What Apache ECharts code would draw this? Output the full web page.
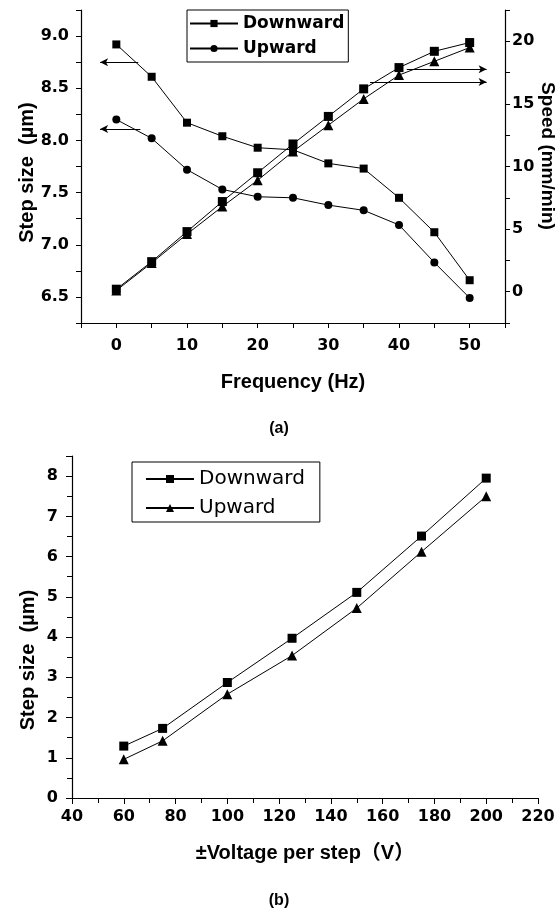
<!DOCTYPE html>
<html>
<head>
<meta charset="utf-8">
<script src="https://cdn.jsdelivr.net/npm/echarts@6/dist/echarts.min.js"></script>
<style>
html, body { margin: 0; padding: 0; background: #fff; }
#chart { width: 558px; height: 917px; }
</style>
</head>
<body>
<div id="chart"></div>
<script>
// (a) frequency sweep
const freq = [0, 5, 10, 15, 20, 25, 30, 35, 40, 45, 50]
const stepDown = [8.92, 8.61, 8.17, 8.04, 7.93, 7.91, 7.78, 7.73, 7.45, 7.12, 6.66]
const stepUp = [8.20, 8.02, 7.72, 7.53, 7.46, 7.45, 7.38, 7.33, 7.19, 6.83, 6.49]
const speedDown = [0.2, 2.4, 4.8, 7.2, 9.5, 11.8, 14.0, 16.2, 17.9, 19.2, 19.9]
const speedUp = [0.1, 2.3, 4.6, 6.8, 8.9, 11.2, 13.3, 15.4, 17.3, 18.4, 19.5]
// arrows pointing at the axis each curve belongs to
const arrowStepDown = [[-2.3, 8.75], [3.1, 8.75]]
const arrowStepUp = [[-2.3, 8.11], [3.4, 8.11]]
const arrowSpeedDown = [[41.1, 17.76], [52.4, 17.76]]
const arrowSpeedUp = [[35.9, 16.74], [52.4, 16.74]]

// (b) voltage sweep
const voltage = [60, 75, 100, 125, 150, 175, 200]
const stepDownV = [1.29, 1.73, 2.87, 3.97, 5.11, 6.51, 7.95]
const stepUpV = [0.96, 1.42, 2.58, 3.54, 4.72, 6.12, 7.50]

const zip = (xs, ys) => xs.map((x, i) => [x, ys[i]])

const black = '#000'
const tickFont = { fontFamily: 'DejaVu Sans', fontWeight: 'bold', fontSize: 16, color: black }
const titleFont = { fontFamily: 'Liberation Sans', fontWeight: 'bold', fontSize: 20, color: black }
const axisLine = { show: true, onZero: false, lineStyle: { color: black, width: 1.2 } }

function arrow(pts, end) {
  return {
    silent: true,
    symbol: end === 'start' ? ['arrow', 'none'] : ['none', 'arrow'],
    symbolSize: [6, 8],
    label: { show: false },
    lineStyle: { color: black, width: 1, type: 'solid' },
    emphasis: { disabled: true },
    data: [[{ coord: pts[0] }, { coord: pts[1] }]]
  }
}

function lineSeries(name, data, symbol, size, xi, yi, extra) {
  return Object.assign({
    name: name,
    type: 'line',
    xAxisIndex: xi,
    yAxisIndex: yi,
    data: data,
    symbol: symbol,
    symbolSize: size,
    animation: false,
    lineStyle: { color: black, width: 1 },
    itemStyle: { color: black }
  }, extra || {})
}

const chart = echarts.init(document.getElementById('chart'))

chart.setOption({
  backgroundColor: '#fff',
  title: [
    { text: '(a)', left: 'center', top: 416, textStyle: { fontFamily: 'Liberation Sans', fontWeight: 'bold', fontSize: 16, color: black } },
    { text: '(b)', left: 'center', top: 888, textStyle: { fontFamily: 'Liberation Sans', fontWeight: 'bold', fontSize: 16, color: black } }
  ],
  grid: [
    { left: 81, right: 53, top: 10, bottom: 594, outerBoundsMode: 'none' },
    { left: 72, right: 20, top: 456, bottom: 119, outerBoundsMode: 'none' }
  ],
  legend: [
    {
      data: ['Downward', 'Upward'],
      orient: 'vertical',
      left: 187,
      top: 10,
      itemWidth: 48,
      itemHeight: 9,
      itemGap: 8,
      padding: [5, 4, 5, 2],
      borderColor: black,
      borderWidth: 1,
      textStyle: { fontFamily: 'DejaVu Sans', fontWeight: 'bold', fontSize: 17, color: black }
    },
    {
      data: ['Downward (b)', 'Upward (b)'],
      formatter: name => name.replace(' (b)', ''),
      orient: 'vertical',
      left: 132,
      top: 462,
      itemWidth: 48,
      itemHeight: 10,
      itemGap: 9,
      padding: [7, 15, 4, 13],
      borderColor: black,
      borderWidth: 1,
      textStyle: { fontFamily: 'DejaVu Sans', fontSize: 20, color: black }
    }
  ],
  xAxis: [
    {
      gridIndex: 0,
      type: 'value',
      min: -5,
      max: 55,
      interval: 5,
      axisLine: axisLine,
      axisTick: { length: 5, lineStyle: { color: black } },
      axisLabel: Object.assign({ margin: 15, formatter: v => (v % 10 === 0 && v >= 0 && v <= 50) ? String(v) : '' }, tickFont),
      splitLine: { show: false },
      name: 'Frequency (Hz)',
      nameLocation: 'middle',
      nameGap: 49,
      nameMoveOverlap: false,
      nameTextStyle: titleFont
    },
    {
      gridIndex: 1,
      type: 'value',
      min: 40,
      max: 220,
      interval: 20,
      axisLine: axisLine,
      axisTick: { length: 6, lineStyle: { color: black } },
      minorTick: { show: true, splitNumber: 2, length: 5, lineStyle: { color: black } },
      axisLabel: Object.assign({ margin: 11 }, tickFont),
      splitLine: { show: false },
      name: '±Voltage per step（V）',
      nameLocation: 'middle',
      nameGap: 45,
      nameMoveOverlap: false,
      nameTextStyle: Object.assign({}, titleFont, { fontFamily: "'Liberation Sans', 'Noto Sans CJK SC'" })
    }
  ],
  yAxis: [
    {
      gridIndex: 0,
      type: 'value',
      position: 'left',
      min: 6.25,
      max: 9.25,
      interval: 0.25,
      axisLine: axisLine,
      axisTick: { length: 5, lineStyle: { color: black } },
      axisLabel: Object.assign({
        margin: 12,
        formatter: v => {
          const k = Math.round(v * 100)
          return (k % 50 === 0 && k >= 650 && k <= 900) ? v.toFixed(1) : ''
        }
      }, tickFont),
      splitLine: { show: false },
      name: 'Step size  (µm)',
      nameLocation: 'middle',
      nameGap: 44,
      nameMoveOverlap: false,
      nameTextStyle: Object.assign({ padding: [0, 12, 0, 0] }, titleFont)
    },
    {
      gridIndex: 0,
      type: 'value',
      position: 'right',
      min: -2.5,
      max: 22.5,
      interval: 2.5,
      axisLine: axisLine,
      axisTick: { length: 5, lineStyle: { color: black } },
      axisLabel: Object.assign({
        margin: 7,
        formatter: v => {
          const k = Math.round(v * 10)
          return (k % 50 === 0 && k >= 0 && k <= 200) ? String(v) : ''
        }
      }, tickFont),
      splitLine: { show: false },
      name: 'Speed (mm/min)',
      nameLocation: 'middle',
      nameRotate: -90,
      nameGap: 33,
      nameMoveOverlap: false,
      nameTextStyle: Object.assign({ padding: [0, 21, 0, 0] }, titleFont, { fontSize: 19 })
    },
    {
      gridIndex: 1,
      type: 'value',
      min: 0,
      max: 8.5,
      interval: 1,
      axisLine: axisLine,
      axisTick: { length: 6, lineStyle: { color: black } },
      minorTick: { show: true, splitNumber: 2, length: 5, lineStyle: { color: black } },
      axisLabel: Object.assign({ margin: 14, showMaxLabel: false }, tickFont),
      splitLine: { show: false },
      name: 'Step size  (µm)',
      nameLocation: 'middle',
      nameGap: 34,
      nameMoveOverlap: false,
      nameTextStyle: Object.assign({ padding: [0, 66, 0, 0] }, titleFont)
    }
  ],
  series: [
    lineSeries('Downward', zip(freq, stepDown), 'rect', 8, 0, 0, { markLine: arrow(arrowStepDown, 'start') }),
    lineSeries('Upward', zip(freq, stepUp), 'circle', 8, 0, 0, { markLine: arrow(arrowStepUp, 'start') }),
    lineSeries('Downward speed', zip(freq, speedDown), 'rect', 9, 0, 1, { markLine: arrow(arrowSpeedDown, 'end') }),
    lineSeries('Upward speed', zip(freq, speedUp), 'triangle', 10, 0, 1, { markLine: arrow(arrowSpeedUp, 'end') }),
    lineSeries('Downward (b)', zip(voltage, stepDownV), 'rect', 9, 1, 2),
    lineSeries('Upward (b)', zip(voltage, stepUpV), 'triangle', 10, 1, 2)
  ]
})
</script>
</body>
</html>
